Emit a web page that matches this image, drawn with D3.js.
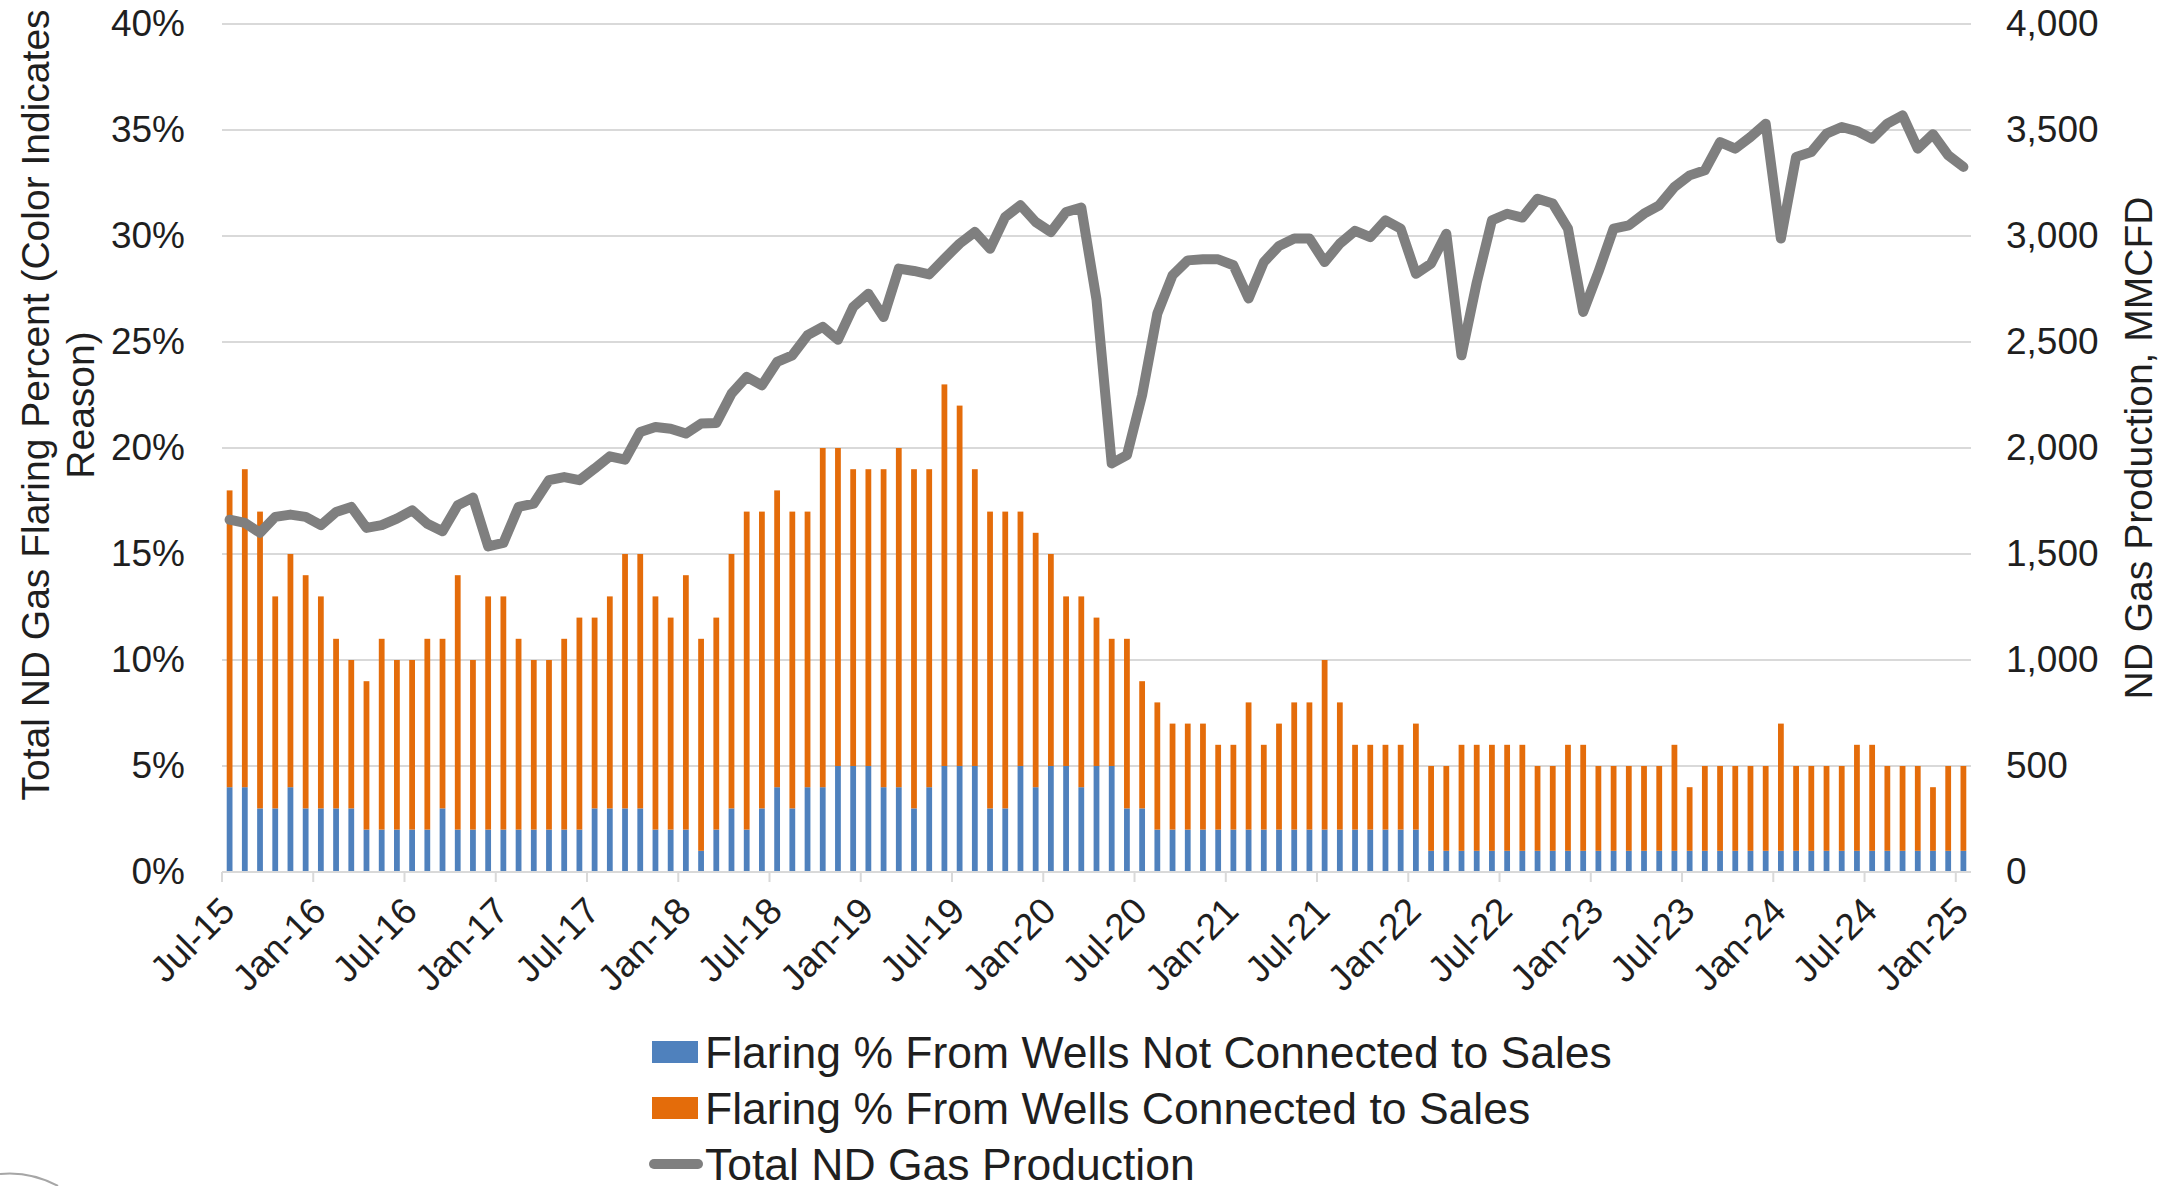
<!DOCTYPE html>
<html>
<head>
<meta charset="utf-8">
<script src="https://d3js.org/d3.v7.min.js"></script>
<style>
  body { margin: 0; background: #fff; }
  text { font-family: "Liberation Sans", Arial, sans-serif; }
</style>
</head>
<body>
<svg id="chart" width="2177" height="1186"></svg>
<script>

// months Jul-15 .. Jan-25 (115 bars)
const months = d3.timeMonth.range(new Date(2015, 6, 1), new Date(2025, 1, 1))

const tickLabels = ['Jul-15','Jan-16','Jul-16','Jan-17','Jul-17','Jan-18','Jul-18','Jan-19','Jul-19','Jan-20',
                    'Jul-20','Jan-21','Jul-21','Jan-22','Jul-22','Jan-23','Jul-23','Jan-24','Jul-24','Jan-25']

// flaring % from wells NOT connected to sales (blue)
const notConnected = [
  4,4,3,3,4,3,3,3,3,2,2,2,2,2,3,2,2,2,2,2,2,2,2,2,3,3,3,3,2,
  2,2,1,2,3,2,3,4,3,4,4,5,5,5,4,4,3,4,5,5,5,3,3,5,4,5,5,4,5,
  5,3,3,2,2,2,2,2,2,2,2,2,2,2,2,2,2,2,2,2,2,1,1,1,1,1,1,1,1,
  1,1,1,1,1,1,1,1,1,1,1,1,1,1,1,1,1,1,1,1,1,1,1,1,1,1,1,1
]

// flaring % from wells connected to sales (orange)
const connected = [
  14,15,14,10,11,11,10,8,7,7,9,8,8,9,8,12,8,11,11,9,8,8,9,10,9,10,12,12,11,
  10,12,10,10,12,15,14,14,14,13,16,15,14,14,15,16,16,15,18,17,14,14,14,12,12,10,8,9,7,
  6,8,6,6,5,5,5,4,4,6,4,5,6,6,8,6,4,4,4,4,5,4,4,5,5,5,5,5,4,
  4,5,5,4,4,4,4,4,5,3,4,4,4,4,4,6,4,4,4,4,5,5,4,4,4,3,4,4
]

// total ND gas production, MMCFD (grey line)
const production = [
  1662,1647,1600,1675,1686,1675,1636,1698,1722,1623,1636,1667,1706,1643,1607,1730,1766,1536,1552,1722,
  1738,1848,1863,1848,1903,1961,1945,2076,2099,2091,2068,2115,2118,2256,2335,2296,2406,2437,2532,2571,
  2511,2665,2728,2618,2846,2835,2819,2893,2964,3019,2940,3090,3145,3066,3019,3113,3134,2700,
  1927,1966,2250,2634,2815,2885,2890,2890,2862,2705,2877,2953,2988,2988,2877,2964,3024,2995,3074,3035,
  2822,2870,3011,2437,2780,3074,3105,3087,3176,3153,3035,2642,2830,3035,3050,3105,3145,3231,3286,3310,
  3443,3412,3467,3530,2988,3373,3396,3483,3514,3495,3459,3530,3569,3412,3480,3381,3326
]

const legendItems = [
  { name: 'Flaring % From Wells Not Connected to Sales', color: '#4f81bd', type: 'rect' },
  { name: 'Flaring % From Wells Connected to Sales', color: '#e46c0a', type: 'rect' },
  { name: 'Total ND Gas Production', color: '#7f7f7f', type: 'line' }
]

const width = 2177, height = 1186
const margin = { top: 24, right: 206, bottom: 314, left: 222 }
const plotW = width - margin.left - margin.right
const plotH = height - margin.top - margin.bottom
const gridColor = '#d9d9d9'
const textColor = '#1f1f1f'

const data = months.map((m, i) => ({ month: m, blue: notConnected[i], orange: connected[i], prod: production[i] }))

const x = d3.scaleBand()
    .domain(months)
    .range([0, plotW])
    .paddingInner(0.62)
    .paddingOuter(0.31)

const yLeft = d3.scaleLinear().domain([0, 40]).range([plotH, 0])
const yRight = d3.scaleLinear().domain([0, 4000]).range([plotH, 0])

const svg = d3.select('#chart')
svg.append('rect').attr('width', width).attr('height', height).attr('fill', '#fff')

const g = svg.append('g').attr('transform', `translate(${margin.left},${margin.top})`)

// gridlines
g.append('g')
  .selectAll('line')
  .data(yLeft.ticks(8).filter(d => d > 0))
  .join('line')
    .attr('x1', 0).attr('x2', plotW)
    .attr('y1', d => yLeft(d)).attr('y2', d => yLeft(d))
    .attr('stroke', gridColor).attr('stroke-width', 2)

// left axis labels
const leftAxis = g.append('g')
  .call(d3.axisLeft(yLeft).tickValues(d3.range(0, 41, 5)).tickSize(0).tickPadding(37).tickFormat(d => d + '%'))
leftAxis.select('.domain').remove()
leftAxis.selectAll('text')
  .style('font-size', '37px').attr('fill', textColor)

// right axis labels
const rightAxis = g.append('g')
  .attr('transform', `translate(${plotW},0)`)
  .call(d3.axisRight(yRight).tickValues(d3.range(0, 4001, 500)).tickSize(0).tickPadding(35).tickFormat(d3.format(',')))
rightAxis.select('.domain').remove()
rightAxis.selectAll('text')
  .style('font-size', '37px').attr('fill', textColor)

// stacked bars
const stack = d3.stack().keys(['blue', 'orange'])(data)
const barColors = { blue: '#4f81bd', orange: '#e46c0a' }

g.append('g')
  .selectAll('g')
  .data(stack)
  .join('g')
    .attr('fill', d => barColors[d.key])
  .selectAll('rect')
  .data(d => d)
  .join('rect')
    .attr('x', d => x(d.data.month))
    .attr('width', x.bandwidth())
    .attr('y', d => yLeft(d[1]))
    .attr('height', d => yLeft(d[0]) - yLeft(d[1]))

// x axis line + ticks every 6 months
const tickMonths = months.filter((m, i) => i % 6 === 0)
g.append('line')
  .attr('x1', 0).attr('x2', plotW)
  .attr('y1', plotH).attr('y2', plotH)
  .attr('stroke', gridColor).attr('stroke-width', 2)

g.append('g')
  .selectAll('line')
  .data(tickMonths)
  .join('line')
    .attr('x1', d => x(d) - x.step() * x.paddingInner() / 2)
    .attr('x2', d => x(d) - x.step() * x.paddingInner() / 2)
    .attr('y1', plotH).attr('y2', plotH + 10)
    .attr('stroke', gridColor).attr('stroke-width', 2)

g.append('g')
  .selectAll('text')
  .data(tickMonths)
  .join('text')
    .attr('transform', (d) => `translate(${x(d) + x.bandwidth() / 2 - 2},${plotH + 32}) rotate(-45)`)
    .attr('text-anchor', 'end')
    .attr('dy', '0.35em')
    .style('font-size', '37px')
    .attr('fill', textColor)
    .text((d, i) => tickLabels[i])

// production line
const line = d3.line()
    .x(d => x(d.month) + x.bandwidth() / 2)
    .y(d => yRight(d.prod))

g.append('path')
  .datum(data)
  .attr('fill', 'none')
  .attr('stroke', '#7f7f7f')
  .attr('stroke-width', 10)
  .attr('stroke-linejoin', 'round')
  .attr('stroke-linecap', 'round')
  .attr('d', line)

// axis titles
svg.append('text')
  .attr('transform', `translate(35,405) rotate(-90)`)
  .attr('text-anchor', 'middle')
  .attr('dy', '0.35em')
  .style('font-size', '39px')
  .attr('fill', textColor)
  .text('Total ND Gas Flaring Percent (Color Indicates')

svg.append('text')
  .attr('transform', `translate(80,405) rotate(-90)`)
  .attr('text-anchor', 'middle')
  .attr('dy', '0.35em')
  .style('font-size', '39px')
  .attr('fill', textColor)
  .text('Reason)')

svg.append('text')
  .attr('transform', `translate(2138,${margin.top + plotH / 2}) rotate(-90)`)
  .attr('text-anchor', 'middle')
  .attr('dy', '0.35em')
  .style('font-size', '39px')
  .attr('fill', textColor)
  .text('ND Gas Production, MMCFD')

// legend
const legend = svg.append('g')
  .selectAll('g')
  .data(legendItems)
  .join('g')
    .attr('transform', (d, i) => `translate(652,${1052 + i * 56})`)

legend.filter(d => d.type === 'rect').append('rect')
  .attr('x', 0).attr('y', -11).attr('width', 46).attr('height', 22)
  .attr('fill', d => d.color)

legend.filter(d => d.type === 'line').append('line')
  .attr('x1', 2).attr('x2', 46).attr('y1', 0).attr('y2', 0)
  .attr('stroke', d => d.color).attr('stroke-width', 10).attr('stroke-linecap', 'round')

legend.append('text')
  .attr('x', 53)
  .attr('dy', '0.35em')
  .style('font-size', '44.5px')
  .attr('fill', textColor)
  .text(d => d.name)

// faint corner arc bottom-left
svg.append('path')
  .attr('d', 'M0,1174 Q30,1171 58,1186')
  .attr('fill', 'none')
  .attr('stroke', '#a6a6a6')
  .attr('stroke-width', 2)

</script>
</body>
</html>
